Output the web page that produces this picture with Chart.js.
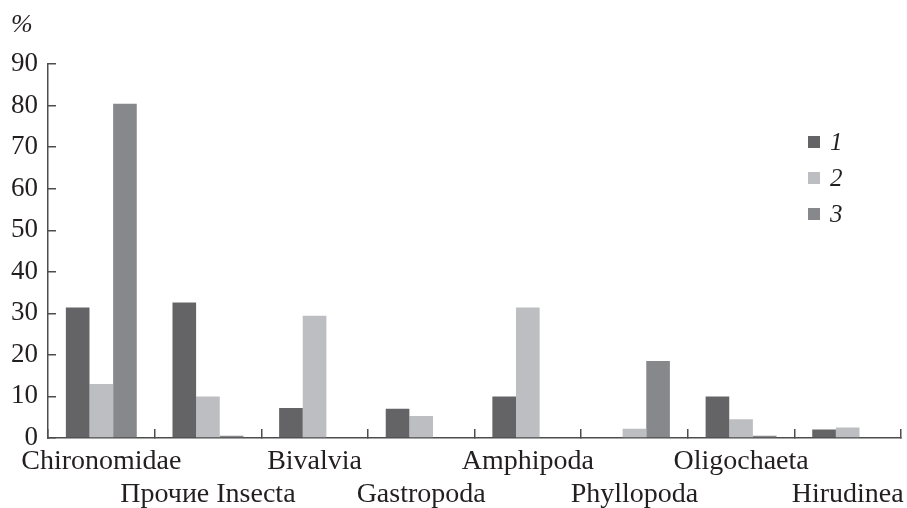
<!DOCTYPE html>
<html lang="ru">
<head>
  <meta charset="UTF-8">
  <title>Доля групп</title>
  <script src="https://cdn.jsdelivr.net/npm/chart.js"></script>
  <style>
    html, body { margin: 0; padding: 0; background: #fff; }
    #wrap { position: relative; width: 907px; height: 508px; }
    #legend { position: absolute; left: 808px; top: 124px; font-family: 'Liberation Serif', serif; font-style: italic; font-size: 25px; color: #231f20; }
    #legend .item { display: flex; align-items: center; height: 36px; }
    #legend .box { width: 12px; height: 12px; margin-right: 10px; }
  </style>
</head>
<body>
  <div id="wrap">
    <canvas id="chart" width="907" height="508"></canvas>
    <div id="legend"></div>
  </div>
  <script>
    // categories (alternating rows on the axis)
    const categories = ['Chironomidae', 'Прочие Insecta', 'Bivalvia', 'Gastropoda', 'Amphipoda', 'Phyllopoda', 'Oligochaeta', 'Hirudinea'];
    const seriesNames = ['1', '2', '3'];
    const series1 = [31.4, 32.6, 7.2, 7.0, 10.0, 0, 10.0, 2.0];
    const series2 = [13.0, 10.0, 29.4, 5.3, 31.4, 2.2, 4.5, 2.5];
    const series3 = [80.5, 0.5, 0, 0, 0, 18.5, 0.5, 0];
    const colors = ['#646467', '#bdbec2', '#87888c'];
    const yTicks = [0, 10, 20, 30, 40, 50, 60, 70, 80, 90];

    const serif = "'Liberation Serif', 'Times New Roman', serif";
    const ink = '#231f20';
    const axisColor = '#4d4d4f';

    // two-row labels: even on first line, odd on second
    const labels = categories.map((c, i) => i % 2 === 0 ? [c, ''] : ['', c]);

    const datasets = [series1, series2, series3].map((d, i) => ({
      label: seriesNames[i],
      data: d,
      backgroundColor: colors[i],
      borderWidth: 0,
      categoryPercentage: 0.665,
      barPercentage: 1
    }));

    new Chart(document.getElementById('chart'), {
      type: 'bar',
      data: { labels: labels, datasets: datasets },
      options: {
        responsive: false,
        animation: false,
        layout: { padding: { left: 11, right: 6, top: 0, bottom: 0 } },
        plugins: {
          legend: { display: false },
          tooltip: { enabled: false },
          title: {
            display: true,
            text: '%',
            align: 'start',
            color: ink,
            font: { family: serif, size: 26, style: 'italic', weight: 'normal' },
            padding: { top: 10, bottom: 23 }
          }
        },
        scales: {
          x: {
            border: { color: axisColor, width: 1.5 },
            grid: { drawOnChartArea: false, drawTicks: true, tickLength: -9, color: axisColor, lineWidth: 1.5, offset: true },
            ticks: { color: ink, padding: 16, font: { family: serif, size: 28, lineHeight: 1.18 }, maxRotation: 0, autoSkip: false },
            // ticks point inward, so drop the spare room Chart.js reserves
            afterFit: axis => { axis.height -= 19; axis.paddingLeft = 0; axis.paddingRight = 0; }
          },
          y: {
            min: 0,
            max: 90,
            afterBuildTicks: axis => { axis.ticks = yTicks.map(v => ({ value: v })); },
            border: { color: axisColor, width: 1.5 },
            grid: { drawOnChartArea: false, drawTicks: true, tickLength: -8, color: axisColor, lineWidth: 1.5 },
            ticks: { color: ink, padding: 18, font: { family: serif, size: 27 } },
            afterFit: axis => { axis.width -= 18; }
          }
        }
      }
    });

    // legend built from the same series
    const legend = document.getElementById('legend');
    seriesNames.forEach((n, i) => {
      const row = document.createElement('div');
      row.className = 'item';
      row.innerHTML = `<span class="box" style="background:${colors[i]}"></span><span>${n}</span>`;
      legend.appendChild(row);
    });
  </script>
</body>
</html>
